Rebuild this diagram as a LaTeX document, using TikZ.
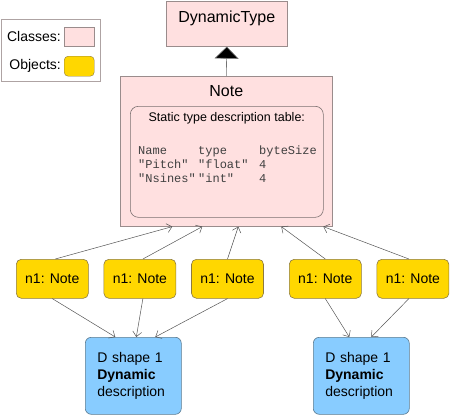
\documentclass[tikz,border=0pt]{standalone}
\usepackage{fontspec}
\setmainfont{Liberation Sans}
\setmonofont{Liberation Mono}
\usepackage{tikz}
\usetikzlibrary{arrows.meta,positioning}
\definecolor{classpink}{HTML}{FFE0E0}
\definecolor{classline}{HTML}{9A8C8C}
\definecolor{objgold}{HTML}{FFD700}
\definecolor{objline}{HTML}{8C7A40}
\definecolor{descblue}{HTML}{88CCFF}
\definecolor{descline}{HTML}{5A7A90}
\definecolor{wire}{HTML}{555555}

\begin{document}
\begin{tikzpicture}[x=1pt,y=-1pt,
  classbox/.style={draw=classline,fill=classpink,line width=0.6pt,
                   inner sep=0pt,anchor=north west},
  objbox/.style={draw=objline,fill=objgold,line width=0.6pt,rounded corners=5pt,
                 minimum width=72pt,minimum height=39pt,inner sep=0pt,
                 font=\fontsize{14}{16}\selectfont},
  descbox/.style={draw=descline,fill=descblue,line width=0.6pt,rounded corners=6pt,
                  minimum width=96pt,minimum height=77pt,inner sep=12pt,
                  text width=72pt,align=left,anchor=north west,
                  font=\fontsize{14}{16.7}\selectfont},
  link/.style={draw=wire,line width=0.5pt,-{Straight Barb[length=5pt,width=9pt]}}]
  \useasboundingbox (0,0) rectangle (450,416);

  % legend
  \node[draw=classline!80,fill=white,line width=0.6pt,inner sep=0pt,anchor=north west,
        minimum width=99pt,minimum height=62pt] (legend) at (1,19) {};
  \node[classbox,minimum width=30pt,minimum height=19pt] (legcls) at (64,27) {};
  \node[draw=objline,fill=objgold,rounded corners=4pt,inner sep=0pt,anchor=north west,
        minimum width=30pt,minimum height=20pt] (legobj) at (64,56) {};
  \node[left=3pt of legcls,inner sep=0pt,font=\fontsize{14}{16}\selectfont] {Classes:};
  \node[left=3pt of legobj,inner sep=0pt,font=\fontsize{14}{16}\selectfont] {Objects:};

  % classes
  \node[classbox,minimum width=121pt,minimum height=45pt,
        label={[anchor=north,inner sep=0pt,yshift=-10pt,font=\fontsize{16}{18}\selectfont]north:DynamicType}]
        (dyn) at (166,1) {};
  \node[classbox,minimum width=212pt,minimum height=150pt,
        label={[anchor=north,inner sep=0pt,yshift=-9pt,font=\fontsize{16}{18}\selectfont]north:Note}]
        (note) at (120,76) {};
  \node[draw=classline!80!black,line width=0.6pt,rounded corners=8pt,inner sep=0pt,
        anchor=north west,minimum width=193pt,minimum height=111pt,
        label={[anchor=north,inner sep=0pt,yshift=-6pt,font=\fontsize{12.5}{14}\selectfont]north:Static type description table:}]
        (table) at (130,106) {};
  \node[anchor=base west,inner sep=0pt,font=\fontsize{12}{14}\ttfamily\color{black!75}]
        (rows) at (138,154) {%
    \begin{tabular}[t]{@{}p{60pt}@{}p{61pt}@{}l@{}}
      Name & type & byteSize\\
      "Pitch" & "float" & 4\\
      "Nsines" & "int" & 4
    \end{tabular}};

  % objects
  \node[objbox,anchor=north west] (n1) at (16,259) {n1: Note};
  \node[objbox,right=15pt of n1] (n2) {n1: Note};
  \node[objbox,right=15pt of n2] (n3) {n1: Note};
  \node[objbox,anchor=north west] (n4) at (289,259) {n1: Note};
  \node[objbox,right=15pt of n4] (n5) {n1: Note};

  % dynamic descriptions
  \node[descbox] (d1) at (85,337) {D shape 1\\\textbf{Dynamic}\\description};
  \node[descbox] (d2) at (313,337) {D shape 1\\\textbf{Dynamic}\\description};

  % inheritance
  \draw[draw=black!55,line width=0.6pt,-{Triangle[width=24pt,length=12pt,fill=black]}]
    (note.north) -- (dyn.south);

  % instance links
  \draw[link] ([xshift=3pt]n1.north) -- ([xshift=-54pt]note.south);
  \draw[link] ([xshift=3pt]n2.north) -- ([xshift=-24pt]note.south);
  \draw[link] (n3.north) -- ([xshift=12pt]note.south);
  \draw[link] (n4.north) -- ([xshift=55pt]note.south);
  \draw[link] ([xshift=-4pt]n5.north) -- ([xshift=97pt]note.south);

  \draw[link] (n1.south) -- ([xshift=-18pt]d1.north);
  \draw[link] ([xshift=3pt]n2.south) -- ([xshift=3pt]d1.north);
  \draw[link] (n3.south) -- ([xshift=22pt]d1.north);
  \draw[link] (n4.south) -- ([xshift=-12pt]d2.north);
  \draw[link] ([xshift=-4pt]n5.south) -- ([xshift=10pt]d2.north);
\end{tikzpicture}
\end{document}
